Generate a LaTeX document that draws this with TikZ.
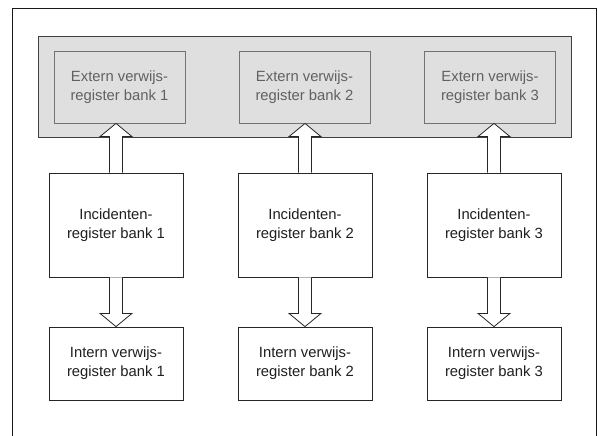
\documentclass[tikz,border=0pt]{standalone}
\usepackage{fontspec}
\setmainfont{Liberation Sans}
\usetikzlibrary{calc}
\begin{document}
\begin{tikzpicture}[x=1pt,y=-1pt,
  lbl/.style={font=\fontsize{14.8}{19}\selectfont, align=center, inner sep=0pt},
  extbox/.style={lbl, draw=black!55, fill=gray!25!white, text=black!62, line width=0.8pt, minimum width=131pt, minimum height=72pt},
  incbox/.style={lbl, draw=black!85, fill=white, text=black!88, line width=0.8pt, minimum width=134pt, minimum height=104pt},
  intbox/.style={lbl, draw=black!85, fill=white, text=black!88, line width=0.8pt, minimum width=134pt, minimum height=73pt},
  fatarrow/.style={draw=black!85, fill=white, line width=0.8pt, line join=miter},
  frameline/.style={draw=black!90, line width=0.9pt}
]
\useasboundingbox (0,0) rectangle (598,436);
\draw[frameline] (12,436) -- (12,8) -- (596,8) -- (596,436);
\draw[draw=black!75, fill=gray!25!white, line width=0.8pt] (38,36) rectangle (571,137);
\node[extbox] (ext1) at (119.5,87) {Extern verwijs-\\register bank 1};
\node[extbox] (ext2) at (304.5,87) {Extern verwijs-\\register bank 2};
\node[extbox] (ext3) at (490,87) {Extern verwijs-\\register bank 3};
\node[incbox] (inc1) at (116,225) {Incidenten-\\register bank 1};
\node[incbox] (inc2) at (305,225) {Incidenten-\\register bank 2};
\node[incbox] (inc3) at (494,225) {Incidenten-\\register bank 3};
\node[intbox] (int1) at (116,363.5) {Intern verwijs-\\register bank 1};
\node[intbox] (int2) at (305,363.5) {Intern verwijs-\\register bank 2};
\node[intbox] (int3) at (494,363.5) {Intern verwijs-\\register bank 3};
\foreach \i in {1,2,3}{
  \draw[fatarrow] (inc\i.north) ++(-6.5,0) -- ++(0,-36) -- ++(-9.5,0)
     -- (inc\i.north |- ext\i.south) -- ($(inc\i.north)+(16,-36)$) -- ++(-9.5,0)
     -- ($(inc\i.north)+(6.5,0)$);
  \draw[fatarrow] (inc\i.south) ++(-6.5,0) -- ++(0,36) -- ++(-9.5,0)
     -- (inc\i.south |- int\i.north) -- ($(inc\i.south)+(16,36)$) -- ++(-9.5,0)
     -- ($(inc\i.south)+(6.5,0)$);
}
\end{tikzpicture}
\end{document}
